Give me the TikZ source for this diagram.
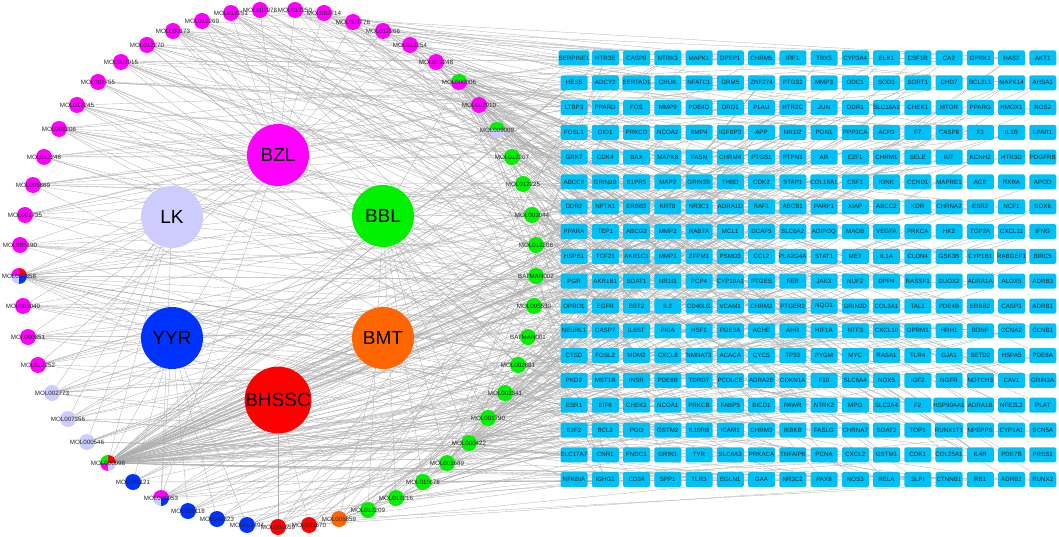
\documentclass[tikz,border=0pt]{standalone}
\usepackage{fontspec}
\setmainfont{Liberation Sans}
\pgfdeclarelayer{background}
\pgfsetlayers{background,main}
\definecolor{bzl}{RGB}{255,0,255}
\definecolor{lk}{RGB}{204,204,255}
\definecolor{bbl}{RGB}{0,240,0}
\definecolor{yyr}{RGB}{0,51,255}
\definecolor{bmt}{RGB}{255,102,0}
\definecolor{bhssc}{RGB}{255,0,0}
\definecolor{targetblue}{RGB}{0,193,245}
\tikzstyle{herb}=[circle,minimum size=62pt,inner sep=0pt,font=\fontsize{19}{19}\selectfont]
\tikzstyle{mol}=[circle,minimum size=16pt,inner sep=0pt]
\tikzstyle{mollabel}=[inner sep=0pt,text=black!85,font=\fontsize{6.2}{7}\selectfont]
\tikzstyle{target}=[rectangle,rounded corners=1.5pt,fill=targetblue,minimum width=27pt,minimum height=15pt,inner sep=0pt,text=black!85,font=\fontsize{6.2}{7}\selectfont]
\tikzstyle{edge}=[draw,black!32,line width=0.3pt]
\newcommand{\molslice}[4]{\fill[#4] (#1.center) -- ++(#2:8pt) arc[start angle=#2,end angle=#3,radius=8pt] -- cycle;}

\begin{document}
\begin{tikzpicture}[x=1pt,y=-1pt]
	\useasboundingbox (0,0) rectangle (1059,537);

	% First we draw the herbs
	\foreach \pos/\name/\col in {{(278,155)/BZL/bzl}, {(172,217)/LK/lk}, {(383,216)/BBL/bbl},
	                             {(172,338)/YYR/yyr}, {(383,338)/BMT/bmt}, {(278,400)/BHSSC/bhssc}}
	\node[herb,fill=\col] (\name) at \pos {\name};

	% Then the compounds round the circle
	\foreach \pos/\name/\col in {{(260,10)/MOL001978/bzl}, {(295,10)/MOL012250/bzl}, {(324,13)/MOL002714/bzl},
	        {(353,22)/MOL002776/bzl}, {(383,31)/MOL012266/bzl}, {(410,45)/MOL012254/bzl}, {(436,62)/MOL012248/bzl},
	        {(479,105)/MOL002910/bzl}, {(512,157)/MOL012207/bbl}, {(523,184)/MOL012225/bbl},
	        {(532,215)/MOL003044/bbl}, {(536,245)/MOL012208/bbl}, {(536,276)/BATMAN002/bbl}, {(534,306)/MOL005530/bbl},
	        {(528,337)/BATMAN001/bbl}, {(518,365)/MOL002881/bbl}, {(505,393)/MOL002341/bbl}, {(488,418)/MOL001790/bbl},
	        {(469,443)/MOL000422/bbl}, {(447,463)/MOL001689/bbl}, {(423,482)/MOL011678/bbl}, {(396,498)/MOL012216/bbl},
	        {(368,510)/MOL012209/bbl}, {(339,519)/MOL006859/bmt}, {(278,527)/MOL001659/bhssc}, {(309,525)/MOL001670/bhssc},
	        {(247,525)/MOL001494/yyr}, {(217,519)/MOL001323/yyr}, {(188,511)/MOL008118/yyr},
	        {(133,482)/MOL008121/yyr}, {(87,442)/MOL000546/lk}, {(68,419)/MOL007356/lk},
	        {(52,393)/MOL002773/lk}, {(38,365)/MOL012252/bzl}, {(28,337)/MOL000351/bzl}, {(23,306)/MOL001040/bzl},
	        {(20,245)/MOL005190/bzl}, {(25,215)/MOL001735/bzl}, {(33,185)/MOL005869/bzl},
	        {(44,157)/MOL012246/bzl}, {(59,129)/MOL008206/bzl}, {(77,105)/MOL012245/bzl}, {(98,82)/MOL001755/bzl},
	        {(121,62)/MOL002915/bzl}, {(147,45)/MOL012270/bzl}, {(173,31)/MOL000173/bzl}, {(202,21)/MOL012269/bzl},
	        {(231,13)/MOL012251/bzl}}
	{
		\node[mol,fill=\col] (\name) at \pos {};
		\node[mollabel] at (\name) {\name};
	}

	% Compounds shared by several herbs
	\foreach \pos/\name in {{(459,82)/MOL000006}, {(497,130)/MOL009009}, {(161,498)/MOL000953},
	                        {(108,463)/MOL000098}, {(19,276)/MOL000358}}
	\node[mol] (\name) at \pos {};
	\foreach \name/\from/\to/\col in {MOL000006/0/180/bbl, MOL000006/180/360/bzl, MOL009009/0/180/bbl,
	        MOL009009/180/360/lk, MOL000953/0/180/bzl, MOL000953/180/270/lk, MOL000953/270/360/yyr,
	        MOL000098/0/90/bhssc, MOL000098/90/180/bbl, MOL000098/180/270/bzl, MOL000098/270/360/lk,
	        MOL000358/0/90/bhssc, MOL000358/90/180/bzl, MOL000358/180/270/lk, MOL000358/270/360/yyr}
	{
		\molslice{\name}{\from}{\to}{\col}
	}
	\foreach \name in {MOL000006, MOL009009, MOL000953, MOL000098, MOL000358}
	\node[mollabel] at (\name) {\name};

	% The targets, row by row
	\foreach \row [count=\ri] in {
	    {SERPINE1,HTR3E,CASP9,NTRK3,MAPK1,DPEP1,CHRM5,IRF1,TBX5,CYP3A4,ELK1,CSF1R,CA2,OPRK1,HAS2,AKT1},
	    {HES5,ADCY2,SERTAD1,CHUK,NFATC1,GRM5,ZNF274,PTGS2,MMP3,ODC1,SOD1,SORT1,CHD7,BCL2L1,MAPK14,AHSA1},
	    {LTBP3,PPARD,FOS,MMP9,PDE4D,DRD1,PLAU,HTR2C,JUN,DDR1,SLC18A1,CHEK1,MTOR,PPARG,HMOX1,NOS2},
	    {FOSL1,DIO1,PRKCD,NCOA2,BMP4,IGFBP3,APP,NR1I2,PON1,PPP3CA,ACP3,F7,CASP8,F3,IL1B,LPAR1},
	    {GRK7,CDK4,BAX,MAPK8,FASN,CHRM4,PTGS1,PTPN1,AR,E2F1,CHRM1,SELE,KIT,KCNH2,HTR3D,PDGFRB},
	    {ABCC8,GRIN2B,S1PR5,MAP2,GRIN3B,THBD,CDK2,STAP1,COL18A1,CSF1,IDNK,CCND1,MAPRE1,ACE,RXRA,APOD},
	    {DDR2,NPTX1,ERBB3,KRT8,NR3C1,ADRA1D,RAF1,ABCB1,PARP1,XIAP,ABCC2,KDR,CHRNA2,ESR2,NCF1,SOX6},
	    {PPARA,TEP1,ABCG2,MMP2,RAB7A,MCL1,DCAF5,SLC6A2,ADIPOQ,MAOB,VEGFA,PRKCA,HK2,TOP2A,CXCL11,IFNG},
	    {HSPB1,TCF21,AKR1C3,MMP1,ZFPM1,PSMD3,CCL2,PLA2G4A,STAT1,MET,IL1A,CLDN4,GSK3B,CYP1B1,RABGEF1,BIRC5},
	    {PGR,AKR1B1,SOAT1,NR1I3,PCP4,CYP19A1,PTGES,FER,JAK3,NUF2,DPP4,RASSF1,DUOX2,ADRA1A,ALOX5,ADRB3},
	    {OPRD1,EGFR,BST2,IL2,CD40LG,VCAM1,CHRM2,PTGER2,NQO1,GRIN2D,COL3A1,TAL1,PDE4B,ERBB2,CASP3,ADRB1},
	    {NEURL1,CASP7,IL6ST,PKIA,HSF1,PDE3A,ACHE,AHR,HIF1A,NTF3,CXCL10,OPRM1,HRH1,BDNF,CCNA2,CCNB1},
	    {CTSD,FOSL2,MDM2,CXCL8,NMNAT3,ACACA,CYCS,TP53,PYGM,MYC,RASA1,TLR4,GJA1,SETD2,HSPA5,PDE8A},
	    {PKD2,MST1R,INSR,PDE8B,TDRD7,PCOLCE,ADRA2B,CDKN1A,F10,SLC6A4,NOX5,IGF2,NGFR,NOTCH3,CAV1,GRIN3A},
	    {ESR1,EIF6,CHEK2,NCOA1,PRKCB,FABP5,BICD1,PAWR,NTRK2,MPO,SLC2A4,F2,HSP90AA1,ADRA1B,NFE2L2,PLAT},
	    {E2F2,BCL2,PGD,GSTM2,IL10RB,ICAM1,CHRM3,IKBKB,FASLG,CHRNA7,SOAT2,TOP1,RUNX1T1,NPEPPS,CYP1A1,SCN5A},
	    {SLC17A7,CNR1,FNDC1,GRIN1,TYR,SLC6A3,PRKACA,TNFAIP6,PCNA,CXCL2,GSTM1,CDK1,COL25A1,IL4R,PDE7B,PRSS1},
	    {NFKBIA,IGHG1,CD34,SPP1,TLR3,EGLN1,GAA,NR3C2,PAX8,NOS3,RELA,SLPI,CTNNB1,RB1,ADRB2,RUNX2}}
	\foreach \gene [count=\ci] in \row
	\node[target,alias=t-\ri-\ci] (\gene) at ({574+31.25*(\ci-1)},{58+24.8*(\ri-1)}) {\gene};

	\begin{pgfonlayer}{background}
		% Herbs to their compounds
		\foreach \herb/\name in {BZL/MOL001978, BZL/MOL012250, BZL/MOL002714, BZL/MOL002776, BZL/MOL012266,
		        BZL/MOL012254, BZL/MOL012248, BZL/MOL000006, BZL/MOL002910, BZL/MOL012252, BZL/MOL000351,
		        BZL/MOL001040, BZL/MOL000358, BZL/MOL005190, BZL/MOL001735, BZL/MOL005869, BZL/MOL012246,
		        BZL/MOL008206, BZL/MOL012245, BZL/MOL001755, BZL/MOL002915, BZL/MOL012270, BZL/MOL000173,
		        BZL/MOL012269, BZL/MOL012251, BZL/MOL000098, BZL/MOL000953,
		        BBL/MOL000006, BBL/MOL009009, BBL/MOL012207, BBL/MOL012225, BBL/MOL003044, BBL/MOL012208,
		        BBL/BATMAN002, BBL/MOL005530, BBL/BATMAN001, BBL/MOL002881, BBL/MOL002341, BBL/MOL001790,
		        BBL/MOL000422, BBL/MOL001689, BBL/MOL011678, BBL/MOL012216, BBL/MOL012209, BBL/MOL000098,
		        LK/MOL009009, LK/MOL000546, LK/MOL007356, LK/MOL002773, LK/MOL000098, LK/MOL000358, LK/MOL000953,
		        YYR/MOL001494, YYR/MOL001323, YYR/MOL008118, YYR/MOL008121, YYR/MOL000953, YYR/MOL000358,
		        BMT/MOL006859, BHSSC/MOL001670, BHSSC/MOL001659, BHSSC/MOL000098, BHSSC/MOL000358}
		\path[edge] (\herb) -- (\name);

		% Compounds to targets
		\pgfmathsetseed{11}
		\foreach \name/\deg in {MOL001978/6, MOL012250/7, MOL002714/8, MOL002776/7, MOL012266/8, MOL012254/9,
		        MOL012248/8, MOL000006/34, MOL002910/10, MOL009009/8, MOL012207/7, MOL012225/7, MOL003044/8,
		        MOL012208/7, BATMAN002/6, MOL005530/6, BATMAN001/6, MOL002881/7, MOL002341/8, MOL001790/10,
		        MOL000422/28, MOL001689/14, MOL011678/8, MOL012216/7, MOL012209/7, MOL006859/8, MOL001670/6,
		        MOL001659/6, MOL001494/5, MOL001323/5, MOL008118/5, MOL000953/10, MOL008121/5, MOL000098/95,
		        MOL000546/8, MOL007356/8, MOL002773/10, MOL012252/7, MOL000351/8, MOL001040/7, MOL000358/18,
		        MOL005190/7, MOL001735/7, MOL005869/8, MOL012246/7, MOL008206/10, MOL012245/8, MOL001755/7,
		        MOL002915/12, MOL012270/8, MOL000173/14, MOL012269/8, MOL012251/10}
		\foreach \i in {1,...,\deg} {
			\pgfmathrandominteger{\trow}{1}{18}
			\pgfmathrandominteger{\tcol}{1}{16}
			\path[edge] (\name) -- (t-\trow-\tcol);
		}
	\end{pgfonlayer}
\end{tikzpicture}
\end{document}
